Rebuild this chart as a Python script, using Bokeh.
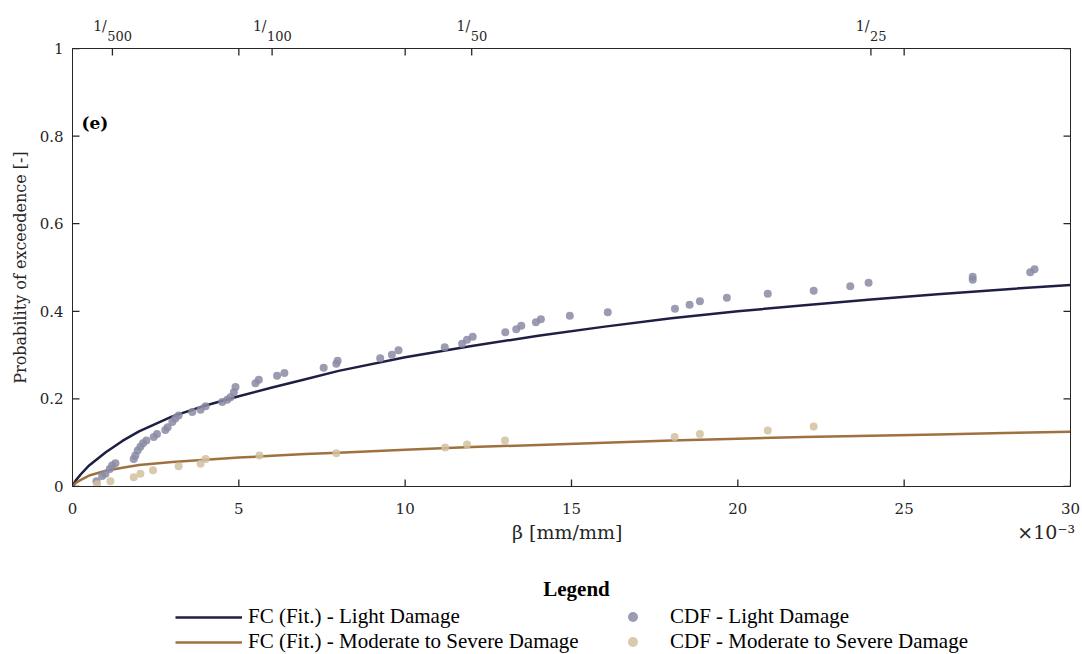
import numpy as np
from bokeh.plotting import figure
from bokeh.layouts import column
from bokeh.models import (LinearAxis, FixedTicker, CustomJSTickFormatter, Range1d,
                          Label, Legend, LegendItem)
from bokeh.embed import file_html
from bokeh.resources import INLINE

# ---------------- data ----------------
fit_beta = [0, 0.1, 0.25, 0.5, 1, 1.5, 2, 3, 4, 5, 6, 7, 8, 10, 12, 14, 16, 18, 20, 22, 24, 26, 28, 30]
fit_light = [0, 0.014, 0.028, 0.048, 0.078, 0.104, 0.126, 0.160, 0.185, 0.206, 0.226, 0.245, 0.264,
             0.295, 0.321, 0.344, 0.365, 0.384, 0.400, 0.414, 0.427, 0.439, 0.450, 0.460]
fit_mod = [0, 0.008, 0.015, 0.025, 0.036, 0.043, 0.049, 0.056, 0.061, 0.066, 0.070, 0.074, 0.077,
           0.084, 0.090, 0.095, 0.100, 0.105, 0.109, 0.113, 0.116, 0.119, 0.122, 0.125]

cdf_light_beta = [0.72, 0.89, 0.99, 1.12, 1.19, 1.29, 1.84, 1.89, 1.96, 2.04, 2.12, 2.22, 2.44, 2.54,
                  2.79, 2.86, 3.0, 3.09, 3.19, 3.6, 3.85, 4.0, 4.5, 4.65, 4.75, 4.85, 4.9, 5.5, 5.6,
                  6.15, 6.37, 7.55, 7.93, 7.97, 9.25, 9.6, 9.8, 11.19, 11.71, 11.86, 12.03, 13.01,
                  13.34, 13.49, 13.93, 14.08, 14.95, 16.09, 18.11, 18.55, 18.86, 19.67, 20.9, 22.28,
                  23.38, 23.93, 27.06, 27.06, 28.79, 28.92]
cdf_light_p = [0.012, 0.024, 0.029, 0.040, 0.048, 0.053, 0.063, 0.071, 0.082, 0.091, 0.099, 0.105,
               0.113, 0.120, 0.129, 0.135, 0.147, 0.155, 0.162, 0.170, 0.175, 0.183, 0.193, 0.198,
               0.204, 0.215, 0.227, 0.236, 0.244, 0.253, 0.259, 0.271, 0.280, 0.287, 0.293, 0.301,
               0.311, 0.318, 0.326, 0.335, 0.342, 0.352, 0.359, 0.367, 0.375, 0.382, 0.390, 0.398,
               0.406, 0.415, 0.423, 0.431, 0.440, 0.447, 0.457, 0.465, 0.472, 0.479, 0.489, 0.496]

cdf_mod_beta = [0.74, 1.14, 1.84, 2.04, 2.42, 3.19, 3.85, 4.0, 5.62, 7.93, 11.2, 11.86, 13.0,
                18.1, 18.86, 20.9, 22.28]
cdf_mod_p = [0.005, 0.012, 0.021, 0.029, 0.037, 0.046, 0.052, 0.063, 0.071, 0.076, 0.089, 0.096,
             0.105, 0.113, 0.120, 0.128, 0.137]

x_ticks = [0, 5, 10, 15, 20, 25, 30]
y_ticks = [0, 0.2, 0.4, 0.6, 0.8, 1]
top_ticks = [1.2, 5, 6, 10, 12, 24, 25]
drift_ticks = [1.2, 6, 12, 24]
drift_denoms = ["500", "100", "50", "25"]

bottom_texts = ["β [mm/mm]", "×10⁻³"]
bottom_text_pos = [14.87, 29.27]

labels_legend = ["FC (Fit.) - Light Damage", "FC (Fit.) - Moderate to Severe Damage",
                 "CDF - Light Damage", "CDF - Moderate to Severe Damage"]

# ---------------- styles ----------------
INK = "#262626"
C_LIGHT_LINE = "#1f1f45"
C_MOD_LINE = "#9e7240"
C_LIGHT_DOT = "#8a8ba4"
C_MOD_DOT = "#d2bf9f"
SERIF = "DejaVu Serif"
TIMES = "Liberation Serif"
PX_PER_UNIT = 998.4 / 30.0      # horizontal pixels per data unit
PX_PER_PROB = 438.0             # vertical pixels per probability unit
TICK_PX = 7                     # inward tick length

p = figure(width=1082, height=560, x_range=Range1d(0, 30), y_range=Range1d(0, 1),
           output_backend="svg", toolbar_location=None,
           min_border_left=72, min_border_right=12, min_border_top=48, min_border_bottom=74)
p.grid.visible = False
p.outline_line_color = INK
p.outline_line_width = 1
p.background_fill_color = None
p.border_fill_color = "white"

p.line(fit_beta, fit_light, line_color=C_LIGHT_LINE, line_width=2.5)
p.line(fit_beta, fit_mod, line_color=C_MOD_LINE, line_width=2.5)
p.scatter(cdf_light_beta, cdf_light_p, size=8, fill_color=C_LIGHT_DOT, line_color=None, fill_alpha=0.85)
p.scatter(cdf_mod_beta, cdf_mod_p, size=8, fill_color=C_MOD_DOT, line_color=None, fill_alpha=0.85)

# inward tick marks drawn at the tick values along the frame edges
xs, xe = p.x_range.start, p.x_range.end
ys, ye = p.y_range.start, p.y_range.end
dy = TICK_PX / PX_PER_PROB
dx = TICK_PX / PX_PER_UNIT
p.segment(x0=x_ticks, y0=[ys] * len(x_ticks), x1=x_ticks, y1=[ys + dy] * len(x_ticks),
          line_color=INK, line_width=1.3)
p.segment(x0=top_ticks, y0=[ye] * len(top_ticks), x1=top_ticks, y1=[ye - dy] * len(top_ticks),
          line_color=INK, line_width=1.3)
p.segment(x0=[xs] * len(y_ticks), y0=y_ticks, x1=[xs + dx] * len(y_ticks), y1=y_ticks,
          line_color=INK, line_width=1.3)
p.segment(x0=[xe] * len(y_ticks), y0=y_ticks, x1=[xe - dx] * len(y_ticks), y1=y_ticks,
          line_color=INK, line_width=1.3)


def style_axis(ax, size="15px"):
    ax.major_tick_in = 0
    ax.major_tick_out = 0
    ax.minor_tick_line_color = None
    ax.axis_line_color = INK
    ax.major_tick_line_color = INK
    ax.major_label_text_color = INK
    ax.major_label_text_font = SERIF
    ax.major_label_text_font_size = size
    ax.axis_label_text_font = SERIF
    ax.axis_label_text_font_style = "normal"
    ax.axis_label_text_color = INK


def hidden_axis(ax, size):
    style_axis(ax, size)
    ax.axis_line_color = None
    ax.major_tick_line_color = None


def lookup_formatter(pos, labs):
    return CustomJSTickFormatter(
        args=dict(pos=list(pos), labs=list(labs)),
        code="const i = pos.findIndex(v => Math.abs(v - tick) < 1e-6); return i >= 0 ? labs[i] : '';")


xa = p.xaxis[0]
style_axis(xa)
xa.ticker = FixedTicker(ticks=x_ticks)
xa.major_label_standoff = 16

ya = p.yaxis[0]
style_axis(ya)
ya.ticker = FixedTicker(ticks=y_ticks)
ya.formatter = CustomJSTickFormatter(code="return String(Math.round(tick*10)/10);")
ya.axis_label = "Probability of exceedence [-]"
ya.axis_label_text_font_size = "16px"
ya.major_label_standoff = 9
ya.axis_label_standoff = 7

blank = CustomJSTickFormatter(code="return '';")
ra = LinearAxis(ticker=FixedTicker(ticks=y_ticks), formatter=blank)
style_axis(ra, "0px")
ra.major_label_standoff = 0
p.add_layout(ra, "right")

# top axis line
ta = LinearAxis(ticker=FixedTicker(ticks=top_ticks), formatter=blank)
style_axis(ta, "0px")
ta.major_label_standoff = 0
p.add_layout(ta, "above")

# top drift labels "1/" + subscript denominator
W1 = 13.6
DIG = 8.27
den_pos, one_pos = [], []
for t, d in zip(drift_ticks, drift_denoms):
    total = W1 + len(d) * DIG
    left = -total / 2
    one_pos.append(t + (left + W1 / 2) / PX_PER_UNIT)
    den_pos.append(t + (left + W1 + 0.5 + len(d) * DIG / 2) / PX_PER_UNIT)

tb = LinearAxis(ticker=FixedTicker(ticks=den_pos), formatter=lookup_formatter(den_pos, drift_denoms))
hidden_axis(tb, "13px")
tb.major_label_standoff = 8
p.add_layout(tb, "above")

tc = LinearAxis(ticker=FixedTicker(ticks=one_pos), formatter=lookup_formatter(one_pos, ["1/"] * len(one_pos)))
hidden_axis(tc, "14px")
tc.major_label_standoff = -6
p.add_layout(tc, "above")

# bottom text row: axis label and exponent
bx = LinearAxis(ticker=FixedTicker(ticks=bottom_text_pos), formatter=lookup_formatter(bottom_text_pos, bottom_texts))
hidden_axis(bx, "19px")
bx.major_label_standoff = 4
p.add_layout(bx, "below")

# panel tag
p.add_layout(Label(x=0, y=0.829, x_offset=9, text="(e)", text_align="left", text_baseline="middle",
                   text_font=SERIF, text_font_size="17px", text_font_style="bold", text_color="black"))

# ---------------- legend strip (ranges in canvas pixels) ----------------
q = figure(width=1082, height=94, x_range=Range1d(72, 1070), y_range=Range1d(0, 94),
           output_backend="svg", toolbar_location=None, x_axis_type=None, y_axis_type=None,
           min_border_left=72, min_border_right=12, min_border_top=0, min_border_bottom=0)
q.grid.visible = False
q.outline_line_color = None
q.background_fill_color = None
q.border_fill_color = "white"

nan1 = np.array([np.nan])
k_l = q.line(nan1, nan1, line_color=C_LIGHT_LINE, line_width=2.5)
k_m = q.line(nan1, nan1, line_color=C_MOD_LINE, line_width=2.5)
k_sl = q.scatter(nan1, nan1, size=8, fill_color=C_LIGHT_DOT, line_color=None, fill_alpha=0.85)
k_sm = q.scatter(nan1, nan1, size=8, fill_color=C_MOD_DOT, line_color=None, fill_alpha=0.85)

q.add_layout(Label(x=576, y=66, text="Legend", text_align="center", text_baseline="middle",
                   text_font=TIMES, text_font_size="21px", text_font_style="bold", text_color="black"))

common = dict(orientation="vertical", padding=0, margin=0, spacing=0,
              border_line_color=None, background_fill_alpha=0,
              label_text_font=TIMES, label_text_font_size="21px", label_text_color="black")
legA = Legend(items=[LegendItem(label=labels_legend[0], renderers=[k_l]),
                     LegendItem(label=labels_legend[1], renderers=[k_m])],
              location=(103, 0), glyph_width=67, glyph_height=20, label_height=20,
              label_standoff=6, **common)
legB = Legend(items=[LegendItem(label=labels_legend[2], renderers=[k_sl]),
                     LegendItem(label=labels_legend[3], renderers=[k_sm])],
              location=(548, 0), glyph_width=25, glyph_height=25, label_height=20,
              label_standoff=25, **common)
q.add_layout(legA)
q.add_layout(legB)

layout = column(p, q, spacing=0)
open("out.html", "w").write(file_html(layout, INLINE))
